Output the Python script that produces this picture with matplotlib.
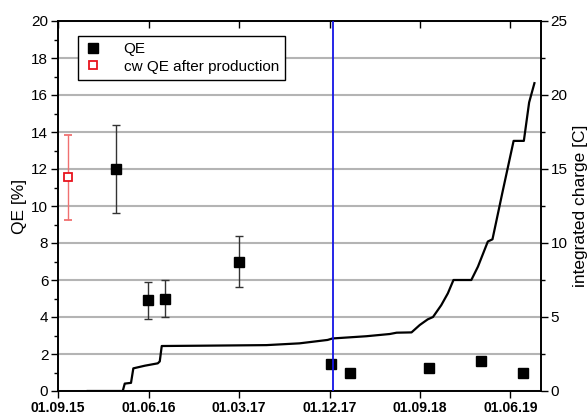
import matplotlib
matplotlib.use("Agg")
import matplotlib.pyplot as plt
from matplotlib.lines import Line2D
import numpy as np
import pandas as pd

plt.rcParams['font.family'] = ['Liberation Sans', 'DejaVu Sans']

# QE measurements
qe_dates = ["2016-02-23", "2016-05-29", "2016-07-21", "2017-03-01", "2017-12-05",
            "2018-02-01", "2018-09-27", "2019-03-03", "2019-07-10"]
qe_values = [12.0, 4.9, 5.0, 7.0, 1.45, 0.97, 1.24, 1.6, 1.0]
qe_errors = [2.4, 1.0, 1.0, 1.4, 0.1, 0.0, 0.0, 0.15, 0.0]

# cw QE after production
cw_dates = ["2015-09-30"]
cw_values = [11.55]
cw_errors = [2.3]

# integrated charge curve
charge_dates = ["2015-11-30", "2016-03-15", "2016-03-21", "2016-04-09", "2016-04-16",
                "2016-05-21", "2016-06-29", "2016-07-05", "2016-07-11", "2016-11-03",
                "2017-05-24", "2017-09-01", "2017-11-25", "2017-12-10", "2018-03-22",
                "2018-06-01", "2018-06-22", "2018-08-06", "2018-08-31", "2018-09-24",
                "2018-10-10", "2018-11-04", "2018-11-24", "2018-12-11", "2019-02-03",
                "2019-02-23", "2019-03-25", "2019-04-08", "2019-04-19", "2019-05-08",
                "2019-06-11", "2019-07-12", "2019-07-28", "2019-08-13"]
charge_values = [0.0, 0.0, 0.5, 0.55, 1.53,
                 1.71, 1.87, 2.0, 3.04, 3.06,
                 3.1, 3.22, 3.45, 3.55, 3.7,
                 3.85, 3.94, 3.96, 4.46, 4.84,
                 5.0, 5.8, 6.6, 7.5, 7.5,
                 8.4, 10.1, 10.25, 11.4, 13.4,
                 16.9, 16.9, 19.5, 20.8]

marker_date = "2017-12-11"

x_ticks = ["2015-09-01", "2016-06-01", "2017-03-01", "2017-12-01", "2018-09-01", "2019-06-01"]
x_tick_labels = ["01.09.15", "01.06.16", "01.03.17", "01.12.17", "01.09.18", "01.06.19"]

to_dt = lambda l: pd.to_datetime(l)

fig = plt.figure(figsize=(5.88, 4.16), dpi=100)
ax = fig.add_axes([58/588, 1-391/416, (540.7-58)/588, (391-21)/416])
ax2 = ax.twinx()
# QE axis drawn on top, charge axis (with grid) below
ax.set_zorder(ax2.get_zorder() + 1)
ax.patch.set_visible(False)
ax2.patch.set_visible(True)
ax2.patch.set_facecolor('white')

ax.set_xlim(pd.Timestamp("2015-09-01"), pd.Timestamp("2019-09-01"))
ax.set_ylim(0, 20)
ax2.set_ylim(0, 25)

ax.set_yticks(np.arange(0, 21, 2))
ax.set_yticks(np.arange(0, 21, 1), minor=True)
ax2.set_yticks(np.arange(0, 26, 5))
ax2.set_yticks(np.arange(0, 26, 2.5), minor=True)
ax.set_xticks(to_dt(x_ticks))
ax.set_xticklabels(x_tick_labels, fontweight='bold', fontsize=10)

ax2.yaxis.grid(True, which='both', color='#b4b4b4', linewidth=1.5)
ax2.set_axisbelow(True)

ax.tick_params(axis='y', which='major', direction='out', length=5, width=1, labelsize=11, pad=2)
ax.tick_params(axis='y', which='minor', direction='out', length=3, width=1)
ax.tick_params(axis='x', which='major', direction='out', length=5, width=1, top=True, pad=2)
ax2.tick_params(axis='y', which='major', direction='out', length=5, width=1, labelsize=11, pad=2)
ax2.tick_params(axis='y', which='minor', direction='out', length=3, width=1)
for t in ax.xaxis.get_major_ticks():
    t.tick2line.set_marker(3)  # pointing down (inward) on top spine
    t.tick2line.set_markersize(5)

for a in (ax, ax2):
    for s in a.spines.values():
        s.set_linewidth(1.2)

# charge curve
ax2.plot(to_dt(charge_dates), charge_values, color='black', linewidth=1.6, zorder=2)

ax.axvline(pd.Timestamp(marker_date), color='#1414e6', linewidth=1.3, zorder=4)

ax.errorbar(to_dt(qe_dates), qe_values, yerr=qe_errors, fmt='s', color='black',
            markersize=7, ecolor='#333333', elinewidth=1, capsize=3, capthick=1, zorder=3)
ax.errorbar(to_dt(cw_dates), cw_values, yerr=cw_errors, fmt='s', markersize=6,
            markerfacecolor='white', markeredgecolor='#e8141e', markeredgewidth=1.3,
            ecolor='#f07070', elinewidth=1, capsize=3, capthick=1, zorder=3)

h1 = Line2D([], [], marker='s', color='black', linestyle='none', markersize=7)
h2 = Line2D([], [], marker='s', linestyle='none', markersize=6, markerfacecolor='white',
            markeredgecolor='#e8141e', markeredgewidth=1.3)
leg = ax.legend(handles=[h1, h2], labels=['QE', 'cw QE after production'],
                loc='upper left', bbox_to_anchor=(0.041, 0.96), borderaxespad=0,
                fontsize=11, frameon=True, fancybox=False, edgecolor='black',
                framealpha=1, handlelength=1.2, handletextpad=1.4, borderpad=0.4,
                labelspacing=0.25)
leg.get_frame().set_linewidth(1)
leg.set_zorder(10)

ax.set_ylabel("QE [%]", fontsize=12.5, labelpad=3)
ax2.set_ylabel("integrated charge [C]", fontsize=12.5, labelpad=4)

fig.savefig("out.png", dpi=100)
